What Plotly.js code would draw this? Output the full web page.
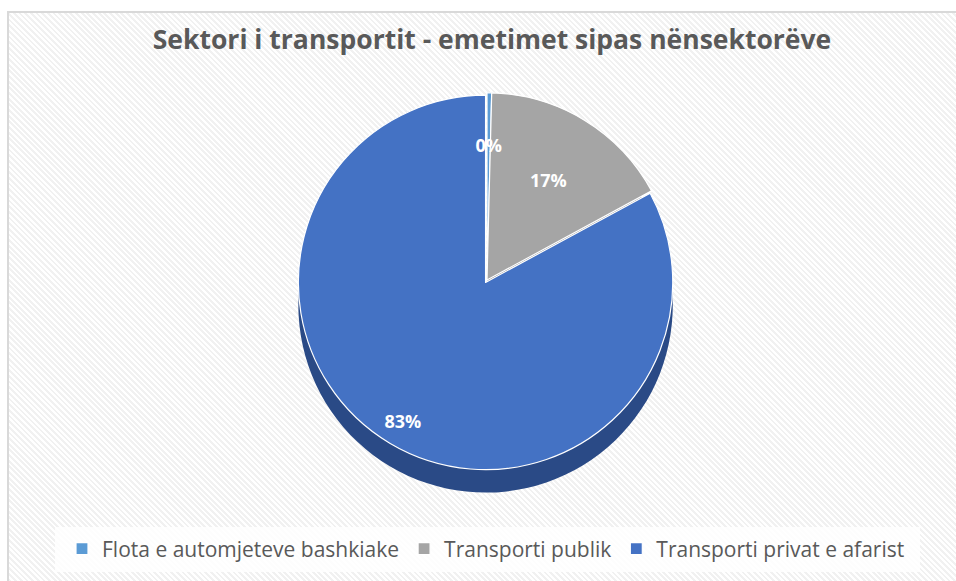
<!DOCTYPE html>
<html>
<head>
<meta charset="utf-8">
<script src="https://cdn.plot.ly/plotly-3.0.1.min.js"></script>
<style>
  html, body { margin: 0; padding: 0; background: #ffffff; overflow: hidden; }
  #frame {
    position: absolute; left: 7px; top: 11px; width: 1000px; height: 620px;
    border: 2px solid #d9d9d9; box-sizing: border-box;
    background: repeating-linear-gradient(45deg, #ffffff 0px, #ffffff 2px, #f1f1f1 2px, #f1f1f1 4px);
  }
  #chart { position: absolute; left: 0; top: 0; width: 956px; height: 581px; }
</style>
</head>
<body>
<div id="frame"></div>
<div id="chart"></div>
<script>
// ---- data ----
const categories = ["Flota e automjeteve bashkiake", "Transporti publik", "Transporti privat e afarist"];
const values = [0.4, 16.7, 82.9];
const chartTitle = "Sektori i transportit - emetimet sipas nënsektorëve";

// ---- layout helpers (pixel -> paper) ----
const W = 956, H = 581;
const cx = 487, cy = 280, R = 190, depth = 23;
const px = x => x / W;
const py = y => 1 - y / H;
const pulls = [0, 0, 0.015];

// label placement helper pie (transparent, carries only the percentage texts)
const labelPulls = [0, 0.19, 0.70];
const rLab = 137;
const RL = rLab * (1 + Math.max(...labelPulls));

const common = {
  type: "pie",
  labels: categories,
  values: values,
  sort: false,
  direction: "clockwise",
  rotation: 0,
  hoverinfo: "skip"
};

const sideTrace = Object.assign({}, common, {
  pull: pulls,
  showlegend: false,
  textinfo: "none",
  marker: { colors: ["#3f77ad", "#7a7a7a", "#2a4a86"], line: { width: 0 } },
  domain: { x: [px(cx - R), px(cx + R)], y: [py(cy + depth + R), py(cy + depth - R)] }
});

const topTrace = Object.assign({}, common, {
  pull: pulls,
  textinfo: "none",
  marker: { colors: ["#5b9bd5", "#a5a5a5", "#4472c4"], line: { color: "#ffffff", width: 1.2 } },
  domain: { x: [px(cx - R), px(cx + R)], y: [py(cy + R), py(cy - R)] }
});

const labelTrace = Object.assign({}, common, {
  pull: labelPulls,
  showlegend: false,
  texttemplate: "%{percent:.0%}",
  textposition: "inside",
  insidetextorientation: "horizontal",
  textfont: { family: "Open Sans", size: 18, color: "#ffffff", weight: "bold" },
  marker: { colors: ["rgba(0,0,0,0)", "rgba(0,0,0,0)", "rgba(0,0,0,0)"], line: { width: 0 } },
  domain: { x: [px(cx - RL), px(cx + RL)], y: [py(cy + RL), py(cy - RL)] }
});

const layout = {
  width: W, height: H,
  margin: { l: 0, r: 0, t: 0, b: 0 },
  paper_bgcolor: "rgba(0,0,0,0)",
  plot_bgcolor: "rgba(0,0,0,0)",
  title: {
    text: chartTitle,
    font: { family: "Open Sans", size: 26.5, color: "#595959", weight: "bold" },
    x: px(492), xanchor: "center", y: py(40), yanchor: "middle"
  },
  uniformtext: { mode: "show", minsize: 18 },
  showlegend: true,
  legend: {
    orientation: "h",
    x: px(486), xanchor: "center",
    y: py(549), yanchor: "middle",
    bgcolor: "rgba(0,0,0,0)",
    font: { family: "Open Sans", size: 21, color: "#595959" },
    traceorder: "normal",
    itemclick: false, itemdoubleclick: false
  },
  shapes: [{
    type: "rect", xref: "paper", yref: "paper", layer: "below",
    x0: px(55), x1: px(920), y0: py(572), y1: py(527),
    fillcolor: "#ffffff", line: { width: 0 }, opacity: 0.85
  }]
};

Plotly.newPlot("chart", [sideTrace, topTrace, labelTrace], layout, { displayModeBar: false, staticPlot: true });
</script>
</body>
</html>
